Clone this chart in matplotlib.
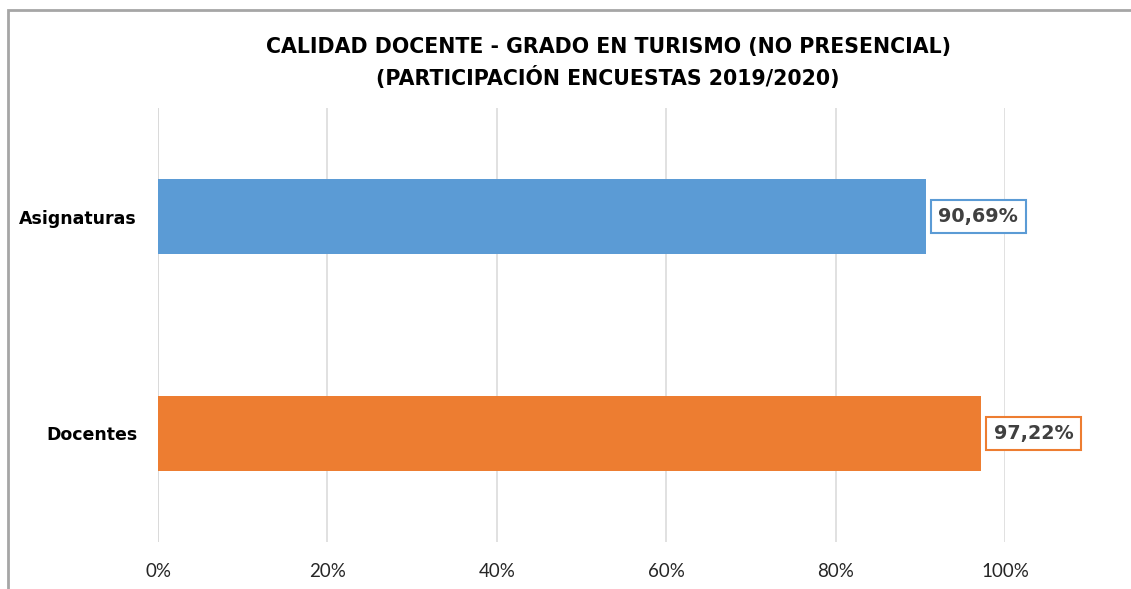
import matplotlib
matplotlib.use("Agg")
import matplotlib.pyplot as plt
from matplotlib.patches import Rectangle

categories = ["Asignaturas", "Docentes"]
values = [90.69, 97.22]
value_labels = ["90,69%", "97,22%"]
colors = ["#5B9BD5", "#ED7D31"]
xticks = [0, 20, 40, 60, 80, 100]
xtick_labels = ["0%", "20%", "40%", "60%", "80%", "100%"]
title = "CALIDAD DOCENTE - GRADO EN TURISMO (NO PRESENCIAL)\n(PARTICIPACIÓN ENCUESTAS 2019/2020)"

W, H = 1131, 589
fig = plt.figure(figsize=(W / 100, H / 100), dpi=100)
fig.patch.set_facecolor("white")

# outer chart border (cropped at right and bottom)
fig.add_artist(Rectangle((8 / W, -0.1), 1.2, 1 - 10 / H + 0.1, transform=fig.transFigure,
                         fill=False, edgecolor="#A6A6A6", linewidth=2))

ax = fig.add_axes([158 / W, 1 - 542 / H, (1005 - 158) / W, (542 - 108) / H])
ypos = list(range(len(categories)))
ax.barh(ypos, values, height=0.35, color=colors, zorder=3)
ax.set_ylim(1.5, -0.5)
ax.set_xlim(0, 100)
ax.set_xticks(xticks)
ax.set_xticklabels(xtick_labels, fontsize=13.5, color="#262626", family="Lato")
ax.set_yticks(ypos)
ax.set_yticklabels(categories, fontsize=12.5, fontweight="bold", color="#000000", family="DejaVu Sans")
ax.tick_params(axis="both", length=0)
ax.tick_params(axis="x", pad=15)
ax.tick_params(axis="y", pad=15)
for s in ax.spines.values():
    s.set_visible(False)
ax.grid(axis="x", color="#D9D9D9", linewidth=1.1, zorder=0)
ax.axvline(0, color="#D9D9D9", linewidth=1.1, zorder=1)

for y, v, lab, c in zip(ypos, values, value_labels, colors):
    ax.text(v + 1.45, y, lab, ha="left", va="center", fontsize=13.8, fontweight="bold",
            color="#404040", family="DejaVu Sans", clip_on=False, zorder=5,
            bbox=dict(boxstyle="square,pad=0.38", facecolor="white", edgecolor=c, linewidth=1.5))

fig.text(608 / W, 1 - 63 / H, title, ha="center", va="center", fontsize=14.8,
         fontweight="bold", color="#000000", family="DejaVu Sans", linespacing=1.45)

fig.savefig("out.png", dpi=100, facecolor="white")
